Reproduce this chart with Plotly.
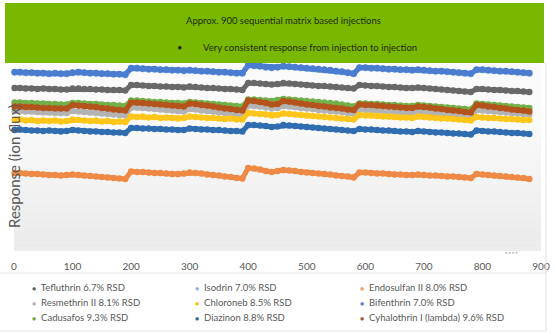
import plotly.graph_objects as go

# ---------------- data ----------------
injections = [1] + list(range(10, 890, 10))

tefluthrin = [163, 163, 162.5, 162.5, 162, 162.5, 162, 162, 161.5, 161.5, 162.5, 162.5, 162, 162, 161.5, 161.5, 161, 161, 161, 160.5,
              166, 166, 165.5, 165, 165, 164.5, 164.5, 164, 164, 163.5, 164.5, 164, 163.5, 163, 163, 162.5, 162, 162, 161.5, 161,
              168, 168, 167.5, 167, 166.5, 167, 168, 167.5, 167, 166.5, 166, 165.5, 165, 165, 164.5, 164, 163.5, 163, 162.5,
              166, 165.5, 165, 165, 164.5, 164, 164, 163.5, 163, 163, 163.5, 163, 162.5, 162, 161.5, 161, 160.5, 160, 159.5, 159,
              162, 162, 161.5, 161, 161, 160.5, 160, 160, 159.5, 159]
isodrin = [178.5, 178.5, 178, 178, 177.5, 177.5, 177, 177.5, 177, 177, 178, 178.5, 178, 177.5, 177.5, 177, 177, 176.5, 176.5, 176,
           182.5, 182.5, 182, 181.5, 181.5, 181, 181, 180.5, 180.5, 180, 180.5, 180, 179.5, 179.5, 179, 178.5, 178.5, 178, 177.5, 177.5,
           185.5, 185, 184.5, 183.5, 183, 183.5, 184.5, 184, 183.5, 183, 182.5, 182, 181.5, 181, 180.5, 179.5, 179, 178, 177,
           183, 183, 182.5, 182.5, 182, 181.5, 181.5, 181, 181, 180.5, 181, 180.5, 180, 179.5, 179.5, 179, 178.5, 178, 177.5, 177,
           181, 181, 180.5, 180, 179.5, 179.5, 179, 178.5, 178, 177.5]
endosulfan = [78, 78, 77.5, 77, 77, 76.5, 76, 76, 75.5, 76, 76.5, 76, 75.5, 75, 74.5, 74, 73.5, 73, 72.5, 72,
              79.5, 79, 79, 78.5, 78, 78, 77.5, 77, 77, 77.5, 78.5, 78, 77.5, 76.5, 76, 75.5, 74.5, 74, 73, 72.5,
              83, 82.5, 81.5, 80, 79, 80, 81, 80.5, 80, 79, 78.5, 78, 77.5, 77, 76.5, 75.5, 75, 74.5, 73.5,
              78.5, 78.5, 78, 77.5, 77.5, 77, 76.5, 76.5, 76, 76, 76.5, 76, 75.5, 75.5, 75, 74.5, 74.5, 74, 73.5, 73,
              77, 76.5, 76, 75.5, 75, 74.5, 74, 73.5, 73, 72]
resmethrin = [140, 140, 139.5, 139.5, 139, 138.5, 138.5, 138, 138, 138, 140, 139.5, 139, 138.5, 138, 137.5, 137, 136.5, 136, 135.5,
              143.5, 143.5, 143, 142.5, 142, 141.5, 141, 140.5, 140, 139.5, 142, 141.5, 140.5, 140, 139.5, 138.5, 138, 137.5, 136.5, 136,
              145.5, 145, 144.5, 143.5, 142.5, 143, 145, 144.5, 144, 143, 142.5, 142, 141, 140.5, 140, 139.5, 139, 138, 137.5,
              141.5, 141, 141, 140.5, 140, 139.5, 139, 139, 138.5, 138, 139.5, 139, 138.5, 138, 137.5, 137, 136.5, 136, 135.5, 135,
              141, 140.5, 140, 139.5, 139, 138.5, 138, 137.5, 137, 136.5]
chloroneb = [131, 131.5, 130.5, 131, 130, 130.5, 130, 130.5, 129.5, 130, 131.5, 131, 130.5, 130, 130.5, 129.5, 130, 129, 129.5, 129,
             134.5, 134, 134.5, 133.5, 134, 133, 133.5, 133, 132.5, 133, 134.5, 134, 133.5, 133, 133, 132.5, 132, 132.5, 131.5, 131.5,
             138, 137.5, 137, 136.5, 135.5, 136, 137.5, 137, 136.5, 136, 135.5, 135, 134.5, 134, 133.5, 133, 132.5, 132, 131.5,
             136, 135.5, 135.5, 135, 134.5, 134.5, 134, 133.5, 133.5, 133, 134.5, 134, 133.5, 133, 132.5, 132.5, 132, 131.5, 131, 130.5,
             134, 133.5, 133, 133, 132.5, 132, 132, 131.5, 131, 131]
bifenthrin = [179, 179, 178.5, 178.5, 178, 178, 177.5, 178, 177.5, 177.5, 178.5, 179, 178.5, 178, 178, 177.5, 177.5, 177, 177, 176.5,
              183, 183, 182.5, 182, 182, 181.5, 181.5, 181, 181, 180.5, 181, 180.5, 180, 180, 179.5, 179, 179, 178.5, 178, 178,
              186, 185.5, 185, 184, 183.5, 184, 185, 184.5, 184, 183.5, 183, 182.5, 182, 181.5, 181, 180, 179.5, 178.5, 177.5,
              183.5, 183.5, 183, 183, 182.5, 182, 182, 181.5, 181.5, 181, 181.5, 181, 180.5, 180, 180, 179.5, 179, 178.5, 178, 177.5,
              181.5, 181.5, 181, 180.5, 180, 180, 179.5, 179, 178.5, 178]
cadusafos = [148.5, 148.5, 148, 148, 147.5, 147.5, 147, 147, 146.5, 146.5, 148, 148, 147.5, 147, 147, 146.5, 146, 146, 145.5, 145,
             150.5, 150.5, 150, 149.5, 149, 149, 148.5, 148, 148, 147.5, 149, 148.5, 148, 147.5, 147, 146.5, 146, 145.5, 145, 144.5,
             151.5, 151.5, 151, 150.5, 150, 151, 152, 151.5, 151, 150.5, 150, 149.5, 149, 148.5, 148, 147.5, 146.5, 145.5, 144.5,
             147.5, 147.5, 147, 147, 146.5, 146, 146, 145.5, 145, 145, 146, 145.5, 145, 144.5, 144, 143.5, 143, 142.5, 142, 141.5,
             147.5, 147, 146.5, 146, 145.5, 145, 144.5, 144, 143.5, 143]
diazinon = [121, 121.5, 121, 120.5, 120.5, 120, 120.5, 120, 119.5, 120, 121, 120.5, 120, 119.5, 119.5, 119, 119, 118.5, 118.5, 118,
            123, 123, 122.5, 122.5, 122, 122, 121.5, 121.5, 121, 121, 122.5, 122, 121.5, 121.5, 121, 121, 120.5, 120, 120, 119.5,
            126, 126, 125.5, 125, 124, 124.5, 126, 125.5, 125, 124.5, 124, 123.5, 123, 122.5, 122, 121.5, 121, 120.5, 120,
            122, 121.5, 121.5, 121, 120.5, 120.5, 120, 119.5, 119.5, 119, 120, 119.5, 119, 118.5, 118.5, 118, 117.5, 117.5, 117, 116.5,
            120.5, 120, 119.5, 119.5, 119, 118.5, 118, 118, 117.5, 117]
cyhalothrin = [144.5, 144.5, 144, 144, 143.5, 143, 143, 142.5, 142.5, 142.5, 146, 145.5, 145, 144.5, 144, 143, 142.5, 141.5, 141, 140.5,
               148.5, 148.5, 148, 147.5, 147, 146.5, 146, 145.5, 145, 144.5, 147.5, 147, 146, 145.5, 144.5, 143.5, 142.5, 142, 141, 140.5,
               150.5, 150, 149, 148, 146.5, 147, 150, 149.5, 148.5, 147.5, 146.5, 146, 145, 144.5, 143.5, 143, 142.5, 141.5, 141,
               146.5, 146, 146, 145.5, 145, 144.5, 144, 143.5, 143, 143, 144.5, 144, 143.5, 142.5, 142, 141, 140.5, 140, 139, 138.5,
               146, 145.5, 144.5, 144, 143, 142.5, 141.5, 141, 140.5, 139.5]

# legend order (row-wise, 3 columns)
legend_names = ["Tefluthrin 6.7% RSD", "Isodrin 7.0% RSD", "Endosulfan II 8.0% RSD",
                "Resmethrin II 8.1% RSD", "Chloroneb 8.5% RSD", "Bifenthrin 7.0% RSD",
                "Cadusafos 9.3% RSD", "Diazinon 8.8% RSD", "Cyhalothrin I (lambda) 9.6% RSD"]
legend_colors = ["#666666", "#8FB4E3", "#F0A06A", "#B5B5B5", "#FFC000", "#5B7FC8", "#70AD47", "#3A6391", "#9E5A30"]

x_ticks = [0, 100, 200, 300, 400, 500, 600, 700, 800, 900]

title_line1 = "Approx. 900 sequential matrix based injections"
title_line2 = "Very consistent response from injection to injection"
y_title = "Response (ion flux)"

# drawing order (bottom -> top) with line colours
series = [
    ("Isodrin", isodrin, "#7FA8DE"),
    ("Bifenthrin", bifenthrin, "#4A7DD0"),
    ("Tefluthrin", tefluthrin, "#686868"),
    ("Endosulfan II", endosulfan, "#EE8A45"),
    ("Resmethrin II", resmethrin, "#B3B3B3"),
    ("Chloroneb", chloroneb, "#FFC61A"),
    ("Cadusafos", cadusafos, "#72B04A"),
    ("Diazinon", diazinon, "#2F6DB0"),
    ("Cyhalothrin I (lambda)", cyhalothrin, "#B4541C"),
]

# ---------------- layout geometry ----------------
W, H = 555, 334
L, R, T, B = 14, 12, 5, 83
PW, PH = W - L - R, H - T - B


def px(xp):
    return (xp - L) / PW


def py(yp):
    return (H - B - yp) / PH


fig = go.Figure()
for name, vals, col in series:
    fig.add_trace(go.Scatter(
        x=injections, y=vals, name=name, mode="lines+markers",
        line=dict(color=col, width=5),
        marker=dict(color=col, size=6.5),
        showlegend=False, hoverinfo="skip", cliponaxis=False,
    ))

shapes = []
# plot-area gradient background
n_bands = 16
for i in range(n_bands):
    f0 = i / n_bands * 0.55
    f1 = (i + 1) / n_bands * 0.55
    g = int(236 + (250 - 236) * (i / (n_bands - 1)))
    shapes.append(dict(type="rect", xref="paper", yref="paper", x0=0, x1=1, y0=f0, y1=f1,
                       fillcolor=f"rgb({g},{g},{g})", line=dict(width=0), layer="below"))
shapes.append(dict(type="rect", xref="paper", yref="paper", x0=0, x1=1, y0=0.55, y1=1,
                   fillcolor="#FAFAFA", line=dict(width=0), layer="below"))
# green header box
shapes.append(dict(type="rect", xref="paper", yref="paper", x0=px(5), x1=px(546), y0=py(63), y1=py(3),
                   fillcolor="#78B800", line=dict(width=0), layer="above"))
# faint frame lines
shapes.append(dict(type="line", xref="paper", yref="paper", x0=px(0), x1=px(548), y0=py(273), y1=py(273),
                   line=dict(color="#E2E2E2", width=1)))
shapes.append(dict(type="line", xref="paper", yref="paper", x0=px(548), x1=px(548), y0=py(63), y1=py(331),
                   line=dict(color="#E2E2E2", width=1)))
shapes.append(dict(type="line", xref="paper", yref="paper", x0=px(0), x1=px(548), y0=py(331), y1=py(331),
                   line=dict(color="#E2E2E2", width=1)))

font_fam = "Lato, 'Open Sans', sans-serif"
annotations = [
    dict(text=title_line1, x=px(285), y=py(20), xref="paper", yref="paper", showarrow=False,
         font=dict(family=font_fam, size=9.5, color="#1E2A10"), xanchor="center", yanchor="middle"),
    dict(text="•", x=px(181), y=py(47), xref="paper", yref="paper", showarrow=False,
         font=dict(family=font_fam, size=9.5, color="#1E2A10"), xanchor="center", yanchor="middle"),
    dict(text=title_line2, x=px(202), y=py(47), xref="paper", yref="paper", showarrow=False,
         font=dict(family=font_fam, size=9.5, color="#1E2A10"), xanchor="left", yanchor="middle"),
    dict(text=y_title, x=px(14), y=py(166), xref="paper", yref="paper", showarrow=False, textangle=-90,
         font=dict(family=font_fam, size=15, color="#595959"), xanchor="center", yanchor="middle"),
    dict(text="● ● ● ●", x=px(513), y=py(252), xref="paper", yref="paper", showarrow=False,
         font=dict(family=font_fam, size=4, color="#BBBBBB"), xanchor="center", yanchor="middle"),
]
col_x = [30, 194, 359]
row_y = [287, 302, 317]
for i, (nm, c) in enumerate(zip(legend_names, legend_colors)):
    annotations.append(dict(
        text=f'<span style="color:{c};font-size:7px">●</span>  {nm}',
        x=px(col_x[i % 3]), y=py(row_y[i // 3]), xref="paper", yref="paper", showarrow=False,
        font=dict(family=font_fam, size=9.5, color="#595959"), xanchor="left", yanchor="middle"))

fig.update_layout(
    width=W, height=H,
    margin=dict(l=L, r=R, t=T, b=B),
    paper_bgcolor="white", plot_bgcolor="#FAFAFA",
    showlegend=False,
    shapes=shapes, annotations=annotations,
    xaxis=dict(range=[0, 900], tickvals=x_ticks, ticktext=[str(v) for v in x_ticks],
               showgrid=False, zeroline=False, showline=False,
               ticks="outside", ticklen=6, tickcolor="rgba(0,0,0,0)",
               tickfont=dict(family=font_fam, size=10, color="#595959")),
    yaxis=dict(range=[0, 246], showticklabels=False, showgrid=False, zeroline=False, showline=False),
)

fig.write_html("out.html")
